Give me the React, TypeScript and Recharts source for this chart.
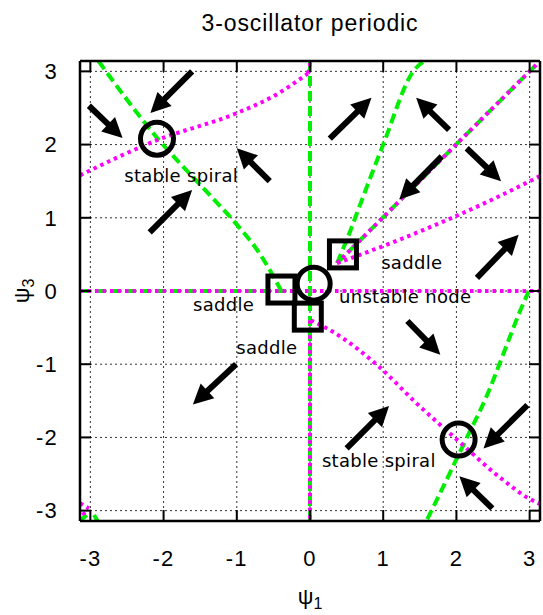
import React from 'react';
import { ComposedChart, Line, Scatter, XAxis, YAxis, CartesianGrid, ReferenceLine } from 'recharts';

const PI = Math.PI;
const tickValues = [-3, -2, -1, 0, 1, 2, 3];
const titleText = '3-oscillator periodic';

// green dashed nullcline pieces
const greenUpperLeft = [
  { x: -2.89, y: PI }, { x: -2.07, y: 2.07 }, { x: -1.5, y: 1.45 }, { x: -1.02, y: 0.93 },
  { x: -0.7, y: 0.53 }, { x: -0.39, y: 0 },
];
const greenAxisY0 = [{ x: -PI, y: 0 }, { x: 0, y: 0 }];
const greenAxisX0 = [{ x: 0, y: PI }, { x: 0, y: -PI }];
const greenSteep = [
  { x: 0.37, y: 0.38 }, { x: 0.55, y: 0.82 }, { x: 0.7, y: 1.22 }, { x: 1.0, y: 2.0 },
  { x: 1.41, y: 3.0 }, { x: 1.56, y: PI },
];
const greenDiagonal = [{ x: 0.37, y: 0.38 }, { x: PI, y: PI }];
const greenLowerRight = [
  { x: 2.99, y: 0 }, { x: 2.85, y: -0.32 }, { x: 2.71, y: -0.68 }, { x: 2.42, y: -1.42 },
  { x: 2.12, y: -2.05 }, { x: 1.66, y: -3.0 }, { x: 1.59, y: -PI },
];
const greenCornerA = [{ x: -PI, y: -PI }, { x: -3.05, y: -3.06 }];
const greenCornerB = [{ x: -2.95, y: -3.06 }, { x: -2.9, y: -PI }];

// magenta dotted nullcline pieces
const magentaUpperLeft = [
  { x: -PI, y: 1.58 }, { x: -2.09, y: 2.06 }, { x: -1.0, y: 2.43 }, { x: -0.5, y: 2.66 },
  { x: -0.03, y: 2.97 },
];
const magentaTopStub = [{ x: -0.03, y: 2.97 }, { x: 0, y: 3.05 }, { x: 0, y: PI }];
const magentaAxisY0 = [{ x: -PI, y: 0 }, { x: PI, y: 0 }];
const magentaAxisX0 = [{ x: 0, y: -0.4 }, { x: 0, y: -PI }];
const magentaLowerRight = [
  { x: 0.01, y: -0.4 }, { x: 0.3, y: -0.55 }, { x: 0.96, y: -1.05 }, { x: 1.43, y: -1.51 },
  { x: 2.04, y: -2.06 }, { x: 2.61, y: -2.56 }, { x: 3.0, y: -2.84 }, { x: PI, y: -2.91 },
];
const magentaShallow = [{ x: 0.37, y: 0.38 }, { x: 1.22, y: 0.7 }, { x: 2.47, y: 1.24 }, { x: PI, y: 1.57 }];
const magentaDiagonal = [{ x: 0.37, y: 0.38 }, { x: PI, y: PI }];
const magentaCornerA = [{ x: -PI, y: -2.9 }, { x: -3.02, y: -2.97 }];
const magentaCornerB = [{ x: -3.1, y: -3.02 }, { x: -3.06, y: -3.1 }];

const greenSeries = [
  { data: greenUpperLeft, curve: 'monotoneX' },
  { data: greenAxisY0, curve: 'linear' },
  { data: greenAxisX0, curve: 'linear' },
  { data: greenSteep, curve: 'monotoneX' },
  { data: greenDiagonal, curve: 'linear' },
  { data: greenLowerRight, curve: 'monotoneX' },
  { data: greenCornerA, curve: 'linear' },
  { data: greenCornerB, curve: 'linear' },
];
const magentaSeries = [
  { data: magentaUpperLeft, curve: 'monotoneX' },
  { data: magentaTopStub, curve: 'linear' },
  { data: magentaAxisY0, curve: 'linear' },
  { data: magentaAxisX0, curve: 'linear' },
  { data: magentaLowerRight, curve: 'monotoneX' },
  { data: magentaShallow, curve: 'monotoneX' },
  { data: magentaDiagonal, curve: 'linear' },
  { data: magentaCornerA, curve: 'linear' },
  { data: magentaCornerB, curve: 'linear' },
];

// flow arrows: tail (x1,y1) -> head (x2,y2)
const arrows = [
  { x1: -1.61, y1: 3.0, x2: -2.18, y2: 2.43 },
  { x1: -3.02, y1: 2.53, x2: -2.56, y2: 2.09 },
  { x1: 0.27, y1: 2.08, x2: 0.84, y2: 2.64 },
  { x1: -0.55, y1: 1.5, x2: -1.0, y2: 1.95 },
  { x1: 1.9, y1: 2.2, x2: 1.45, y2: 2.64 },
  { x1: 2.14, y1: 1.95, x2: 2.61, y2: 1.5 },
  { x1: 1.8, y1: 1.84, x2: 1.22, y2: 1.25 },
  { x1: -2.19, y1: 0.8, x2: -1.61, y2: 1.38 },
  { x1: 2.28, y1: 0.18, x2: 2.85, y2: 0.77 },
  { x1: 1.33, y1: -0.41, x2: 1.78, y2: -0.87 },
  { x1: -1.01, y1: -1.0, x2: -1.6, y2: -1.55 },
  { x1: 0.5, y1: -2.15, x2: 1.08, y2: -1.57 },
  { x1: 2.97, y1: -1.56, x2: 2.37, y2: -2.15 },
  { x1: 2.49, y1: -2.97, x2: 2.04, y2: -2.53 },
];

const circlePoints = [{ x: -2.09, y: 2.08 }, { x: 0.05, y: 0.1 }, { x: 2.03, y: -2.03 }];
const squarePoints = [{ x: 0.45, y: 0.5 }, { x: -0.39, y: 0.02 }, { x: -0.03, y: -0.35 }];
const labelPoints = [
  { x: -1.76, y: 1.58, text: 'stable spiral' },
  { x: 1.39, y: 0.39, text: 'saddle' },
  { x: 1.3, y: -0.07, text: 'unstable node' },
  { x: -1.18, y: -0.19, text: 'saddle' },
  { x: -0.59, y: -0.77, text: 'saddle' },
  { x: 0.94, y: -2.32, text: 'stable spiral' },
];

const FONT = '"Liberation Sans", Arial, sans-serif';

const ArrowShape = (props: any) => {
  const { x1, y1, x2, y2 } = props;
  const dx = x2 - x1;
  const dy = y2 - y1;
  const len = Math.hypot(dx, dy) || 1;
  const ux = dx / len;
  const uy = dy / len;
  const hl = 20;
  const hw = 10;
  const bx = x2 - ux * hl;
  const by = y2 - uy * hl;
  const px = -uy;
  const py = ux;
  return (
    <g>
      <line x1={x1} y1={y1} x2={bx + ux * 2} y2={by + uy * 2} stroke="#000" strokeWidth={6} />
      <polygon points={`${x2},${y2} ${bx + px * hw},${by + py * hw} ${bx - px * hw},${by - py * hw}`} fill="#000" />
    </g>
  );
};

const CircleMark = (p: any) => <circle cx={p.cx} cy={p.cy} r={16.5} fill="none" stroke="#000" strokeWidth={5} />;
const SquareMark = (p: any) => (
  <rect x={p.cx - 13.5} y={p.cy - 13.5} width={27} height={27} fill="none" stroke="#000" strokeWidth={5} />
);
const LabelMark = (p: any) => (
  <text
    x={p.cx}
    y={p.cy}
    textAnchor="middle"
    dominantBaseline="central"
    fontFamily='"DejaVu Sans", sans-serif'
    fontSize={18}
    letterSpacing={0.3}
    fill="#000"
  >
    {p.payload.text}
  </text>
);

const tickStyle = { fill: '#000', fontSize: 22, fontFamily: FONT, letterSpacing: 1.2 };
const axisLineStyle = { stroke: '#000', strokeWidth: 2.5 };
const tickLineStyle = { stroke: '#000', strokeWidth: 2 };
const empty = () => '';

export default function App() {
  return (
    <div style={{ position: 'absolute', left: 0, top: 0, width: 543, height: 615, background: '#fff' }}>
      <svg width={543} height={50} style={{ position: 'absolute', left: 0, top: 0 }}>
        <text x={310} y={31} textAnchor="middle" fontFamily={FONT} fontSize={23} letterSpacing={0.9} fill="#000">
          {titleText}
        </text>
      </svg>
      <div style={{ position: 'absolute', left: 0, top: 0 }}>
        <ComposedChart width={543} height={615} margin={{ top: 60, right: 2, bottom: 34, left: 20 }}>
          <CartesianGrid stroke="#333" strokeDasharray="2 3" strokeWidth={1} />
          <XAxis
            dataKey="x"
            type="number"
            domain={[-PI, PI]}
            ticks={tickValues}
            allowDataOverflow
            height={60}
            tickSize={-11}
            tickMargin={40}
            tick={tickStyle}
            axisLine={axisLineStyle}
            tickLine={tickLineStyle}
            label={{
              content: (lp: any) => {
                const vb = lp.viewBox;
                return (
                  <text x={vb.x + vb.width / 2} y={vb.y + 83} textAnchor="middle" fontFamily={FONT} fontSize={22} fill="#000">
                    ψ<tspan fontSize={16} dy={5}>1</tspan>
                  </text>
                );
              },
            }}
          />
          <XAxis
            xAxisId="top"
            orientation="top"
            dataKey="x"
            type="number"
            domain={[-PI, PI]}
            ticks={tickValues}
            allowDataOverflow
            height={1}
            tickSize={-11}
            tickFormatter={empty}
            axisLine={axisLineStyle}
            tickLine={tickLineStyle}
          />
          <YAxis
            dataKey="y"
            type="number"
            domain={[-PI, PI]}
            ticks={tickValues}
            allowDataOverflow
            width={60}
            tickSize={-11}
            tickMargin={33}
            tick={tickStyle}
            axisLine={axisLineStyle}
            tickLine={tickLineStyle}
            label={{
              content: (lp: any) => {
                const vb = lp.viewBox;
                const cy = vb.y + vb.height / 2;
                return (
                  <text transform={`translate(${vb.x + 9}, ${cy}) rotate(-90)`} x={0} y={0} textAnchor="middle" fontFamily={FONT} fontSize={22} fill="#000">
                    ψ<tspan fontSize={16} dy={5}>3</tspan>
                  </text>
                );
              },
            }}
          />
          <YAxis
            yAxisId="right"
            orientation="right"
            dataKey="y"
            type="number"
            domain={[-PI, PI]}
            ticks={tickValues}
            allowDataOverflow
            width={1}
            tickSize={-11}
            tickFormatter={empty}
            axisLine={axisLineStyle}
            tickLine={tickLineStyle}
          />
          {greenSeries.map((s, i) => (
            <Line
              key={`g${i}`}
              data={s.data}
              dataKey="y"
              type={s.curve as any}
              stroke="#00ee00"
              strokeWidth={4}
              strokeDasharray="10 5"
              dot={false}
              activeDot={false}
              isAnimationActive={false}
            />
          ))}
          {magentaSeries.map((s, i) => (
            <Line
              key={`m${i}`}
              data={s.data}
              dataKey="y"
              type={s.curve as any}
              stroke="#ff00ff"
              strokeWidth={4}
              strokeDasharray="3.5 4"
              dot={false}
              activeDot={false}
              isAnimationActive={false}
            />
          ))}
          {arrows.map((a, i) => (
            <ReferenceLine
              key={`a${i}`}
              segment={[{ x: a.x1, y: a.y1 }, { x: a.x2, y: a.y2 }]}
              shape={ArrowShape}
              ifOverflow="visible"
            />
          ))}
          <Scatter data={circlePoints} dataKey="y" shape={CircleMark} isAnimationActive={false} />
          <Scatter data={squarePoints} dataKey="y" shape={SquareMark} isAnimationActive={false} />
          <Scatter data={labelPoints} dataKey="y" shape={LabelMark} isAnimationActive={false} />
        </ComposedChart>
      </div>
    </div>
  );
}
